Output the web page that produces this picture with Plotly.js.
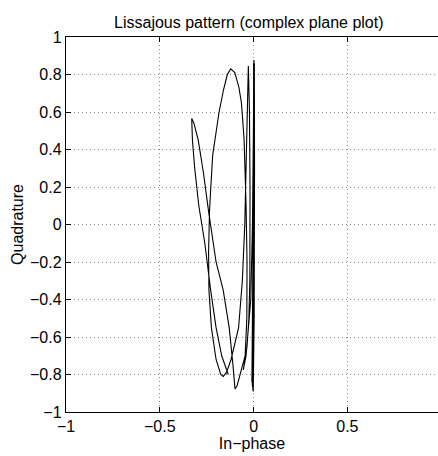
<!DOCTYPE html>
<html>
<head>
<meta charset="utf-8">
<script src="https://cdn.plot.ly/plotly-3.0.1.min.js"></script>
<style>html,body{margin:0;padding:0;background:#fff;}#chart{width:438px;height:456px;}</style>
</head>
<body>
<div id="chart"></div>
<script>
var inPhase = [
  -0.135, -0.17, -0.20, -0.229, -0.26, -0.292, -0.314, -0.326, -0.33,
  -0.318, -0.295, -0.268, -0.24, -0.20, -0.162, -0.13, -0.11, -0.099,
  -0.088, -0.072, -0.045, -0.036, -0.035, -0.04, -0.045, -0.051, -0.065, -0.078, -0.10, -0.122,
  -0.14, -0.16, -0.184, -0.20, -0.218, -0.228, -0.235, -0.24, -0.238, -0.225, -0.20, -0.175, -0.162,
  -0.145, -0.12, -0.08, -0.06, -0.047, -0.039, -0.033, -0.028,
  -0.022, -0.019, -0.02, -0.025, -0.035, -0.055,
  -0.04, -0.015, -0.006, -0.001, 0.002,
  0.0, -0.004, -0.007, -0.002,
  0.003, 0.005, 0.004,
  0.0, -0.007, -0.009,
  -0.002, 0.002, 0.001,
  -0.004, -0.004,
  0.001, 0.0
];
// Quadrature (imaginary part) samples
var quadrature = [
  -0.80, -0.70, -0.55, -0.35, -0.10, 0.10, 0.30, 0.45, 0.566,
  0.54, 0.45, 0.28, 0.07, -0.20, -0.35, -0.55, -0.75, -0.877,
  -0.86, -0.80, -0.70, -0.50, -0.20, 0.10, 0.30, 0.46, 0.65, 0.73, 0.81, 0.83,
  0.80, 0.72, 0.60, 0.48, 0.37, 0.20, 0.07, -0.15, -0.35, -0.55, -0.72, -0.80, -0.81,
  -0.79, -0.72, -0.55, -0.30, 0.0, 0.30, 0.60, 0.845,
  0.60, 0.20, -0.30, -0.50, -0.65, -0.776,
  -0.70, -0.40, 0.0, 0.50, 0.877,
  0.30, -0.50, -0.85, -0.89,
  -0.50, 0.30, 0.86,
  0.20, -0.60, -0.84,
  -0.30, 0.50, 0.85,
  0.0, -0.87,
  0.0, 0.86
];
var xTicks = [-1, -0.5, 0, 0.5];
var yTicks = [-1, -0.8, -0.6, -0.4, -0.2, 0, 0.2, 0.4, 0.6, 0.8, 1];

function label(v) { return String(v).replace('-', '\u2212'); }

var font = {family: '"Liberation Sans", Arial, Helvetica, sans-serif', size: 16, color: '#000'};

var trace = {
  x: inPhase, y: quadrature, type: 'scatter', mode: 'lines',
  line: {color: '#000', width: 1.1}, hoverinfo: 'none'
};

var layout = {
  width: 438, height: 456,
  margin: {l: 66, r: 0, t: 37, b: 44, pad: 0},
  paper_bgcolor: '#fff', plot_bgcolor: '#fff',
  font: font,
  showlegend: false,
  title: {text: 'Lissajous pattern (complex plane plot)', font: font, x: 0.568, xanchor: 'center', y: 0.95, yanchor: 'middle'},
  xaxis: {
    range: [-1, 0.983], tickvals: xTicks, ticktext: xTicks.map(label),
    ticks: 'inside', ticklen: 5, tickcolor: '#000', showline: true, linecolor: '#000', linewidth: 1.2, mirror: 'ticks',
    showgrid: true, gridcolor: '#8a8a8a', griddash: '1px,3px', gridwidth: 1, zeroline: false,
    tickfont: font,
    title: {text: 'In\u2212phase', font: font, standoff: 3}
  },
  yaxis: {
    range: [-1, 1], tickvals: yTicks, ticktext: yTicks.map(label),
    ticks: 'inside', ticklen: 5, tickcolor: '#000', showline: true, linecolor: '#000', linewidth: 1.2,
    showgrid: true, gridcolor: '#8a8a8a', griddash: '1px,3px', gridwidth: 1, zeroline: false,
    tickfont: font,
    title: {text: 'Quadrature', font: font, standoff: 2}
  }
};

Plotly.newPlot('chart', [trace], layout, {staticPlot: true, displayModeBar: false});
</script>
</body>
</html>
